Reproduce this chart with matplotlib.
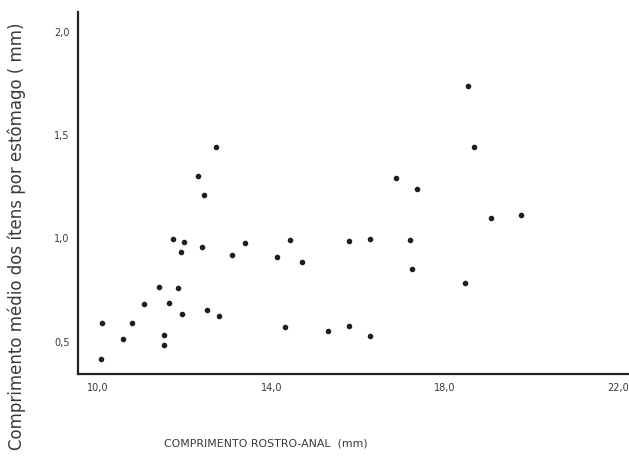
import numpy as np
import matplotlib
matplotlib.use('Agg')
import matplotlib.pyplot as plt

# Comprimento rostro-anal (mm)
comprimento_rostro_anal = [
    12.73, 12.31, 12.44, 11.73, 11.98, 11.91, 12.40, 13.09, 13.39, 14.42,
    14.14, 14.71, 11.41, 11.84, 11.07, 11.63, 11.94, 12.52, 12.80, 10.09,
    10.79, 10.57, 11.52, 11.52, 10.06, 14.31, 18.53, 18.67, 16.87, 17.36,
    19.07, 19.75, 15.79, 16.28, 17.19, 17.25, 18.47, 15.31, 15.80, 16.28,
]

# Comprimento medio dos itens por estomago (mm)
comprimento_itens = [
    1.437, 1.297, 1.205, 0.990, 0.980, 0.929, 0.956, 0.916, 0.973, 0.987,
    0.905, 0.881, 0.760, 0.753, 0.678, 0.685, 0.629, 0.649, 0.618, 0.586,
    0.587, 0.508, 0.526, 0.481, 0.414, 0.566, 1.732, 1.437, 1.285, 1.232,
    1.094, 1.106, 0.984, 0.990, 0.989, 0.847, 0.781, 0.547, 0.571, 0.524,
]

x_ticks = [10.0, 14.0, 18.0, 22.0]
x_tick_labels = ['10,0', '14,0', '18,0', '22,0']
y_ticks = [0.5, 1.0, 1.5, 2.0]
y_tick_labels = ['0,5', '1,0', '1,5', '2,0']

TEXT_COLOR = '#3a3a3a'


def create_scatter():
    fig = plt.figure(figsize=(6.29, 4.64), dpi=100)
    ax = fig.add_axes([0.124, 0.192, 0.876, 0.780])

    ax.scatter(comprimento_rostro_anal, comprimento_itens, s=9, color='#1e1e1e', zorder=3)

    ax.set_xlim(9.54, 22.25)
    ax.set_ylim(0.34, 2.09)

    # somente eixos esquerdo e inferior
    ax.spines['top'].set_visible(False)
    ax.spines['right'].set_visible(False)
    ax.spines['left'].set_linewidth(1.6)
    ax.spines['bottom'].set_linewidth(1.6)
    ax.spines['left'].set_color('#222222')
    ax.spines['bottom'].set_color('#222222')

    ax.set_xticks(x_ticks)
    ax.set_xticklabels(x_tick_labels)
    ax.set_yticks(y_ticks)
    ax.set_yticklabels(y_tick_labels)
    ax.tick_params(length=0, labelsize=7, colors=TEXT_COLOR)
    ax.tick_params(axis='x', pad=6)
    ax.tick_params(axis='y', pad=6)

    fig.text(0.026, 0.49, 'Comprimento médio dos ítens por estômago ( mm)',
             rotation=90, ha='center', va='center', fontsize=12, color=TEXT_COLOR)
    fig.text(0.423, 0.045, 'COMPRIMENTO ROSTRO-ANAL  (mm)',
             ha='center', va='center', fontsize=7.9, color=TEXT_COLOR)

    fig.savefig('out.png', dpi=100)


def main():
    create_scatter()


if __name__ == '__main__':
    main()
